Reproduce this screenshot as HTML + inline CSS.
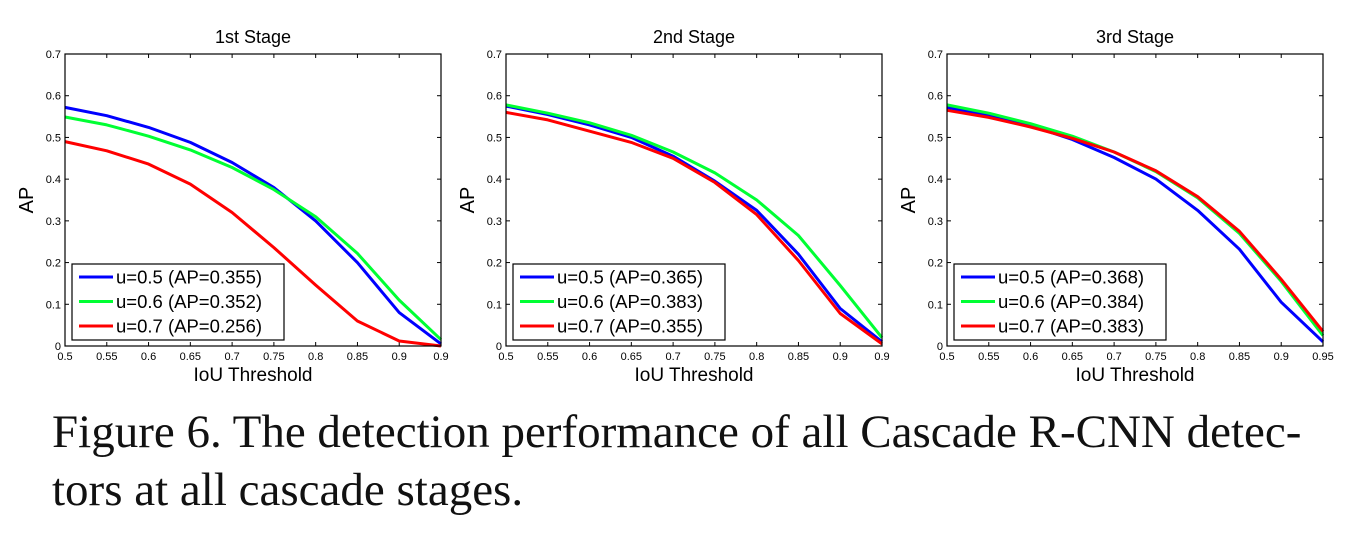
<!DOCTYPE html>
<html><head><meta charset="utf-8"><style>
html,body{margin:0;padding:0;background:#fff;width:1346px;height:557px;overflow:hidden}
svg{position:absolute;left:0;top:0}
.cap{position:absolute;left:52px;font-family:"Liberation Serif",serif;font-size:47px;line-height:47px;color:#111;white-space:nowrap}
</style></head><body>
<svg id="s" width="1346" height="557" xmlns="http://www.w3.org/2000/svg" font-family="Liberation Sans, sans-serif"></svg>
<div class="cap" style="top:409px">Figure 6. The detection performance of all Cascade R-CNN detec-</div>
<div class="cap" style="top:467px">tors at all cascade stages.</div>
<script>
const P=[
{x0:65,t:"1st Stage",last:"0.9",ap:["0.355","0.352","0.256"],d:[
[.572,.552,.524,.488,.44,.38,.3,.2,.08,.005],
[.549,.530,.503,.470,.428,.375,.31,.222,.11,.015],
[.49,.468,.436,.388,.32,.236,.146,.06,.012,0]]},
{x0:506,t:"2nd Stage",last:"0.9",ap:["0.365","0.383","0.355"],d:[
[.575,.555,.53,.5,.455,.395,.325,.22,.09,.01],
[.578,.558,.535,.505,.465,.415,.35,.265,.145,.02],
[.56,.542,.515,.488,.45,.392,.315,.205,.078,.005]]},
{x0:947,t:"3rd Stage",last:"0.95",ap:["0.368","0.384","0.383"],d:[
[.572,.552,.528,.495,.452,.4,.325,.232,.105,.01],
[.578,.558,.533,.503,.465,.418,.355,.27,.155,.025],
[.565,.548,.525,.498,.465,.42,.358,.275,.16,.035]]}];
const C=["#0000ff","#00ff33","#ff0000"];
let h="";const W=376,T=54,B=346,H=B-T;
for(const p of P){const x0=p.x0;
h+=`<text x="${x0+W/2}" y="43" font-size="18" text-anchor="middle">${p.t}</text>`;
h+=`<text transform="translate(${x0-32},200) rotate(-90)" font-size="20" text-anchor="middle">AP</text>`;
h+=`<text x="${x0+W/2}" y="381" font-size="19" text-anchor="middle">IoU Threshold</text>`;
for(let i=0;i<=7;i++){const y=B-i*H/7;
h+=`<text x="${x0-4}" y="${y+4}" font-size="11" text-anchor="end">${i?("0."+i):"0"}</text>`;
h+=`<line x1="${x0}" x2="${x0+4}" y1="${y}" y2="${y}" stroke="#000"/><line x1="${x0+W-4}" x2="${x0+W}" y1="${y}" y2="${y}" stroke="#000"/>`;}
const xl=["0.5","0.55","0.6","0.65","0.7","0.75","0.8","0.85","0.9",p.last];
for(let i=0;i<10;i++){const x=x0+i*W/9;
h+=`<text x="${x}" y="360" font-size="11" text-anchor="middle">${xl[i]}</text>`;
h+=`<line x1="${x}" x2="${x}" y1="${B}" y2="${B-4}" stroke="#000"/><line x1="${x}" x2="${x}" y1="${T}" y2="${T+4}" stroke="#000"/>`;}
for(let k=0;k<3;k++){const pts=p.d[k].map((v,i)=>`${(x0+i*W/9).toFixed(1)},${(B-v*H/0.7).toFixed(1)}`).join(" ");
h+=`<polyline points="${pts}" fill="none" stroke="${C[k]}" stroke-width="3" stroke-linejoin="round"/>`;}
h+=`<rect x="${x0}" y="${T}" width="${W}" height="${H}" fill="none" stroke="#000" stroke-width="1.2"/>`;
h+=`<rect x="${x0+7}" y="264" width="212" height="76" fill="#fff" stroke="#000" stroke-width="1.2"/>`;
for(let k=0;k<3;k++){const y=277+k*24.5;
h+=`<line x1="${x0+14}" x2="${x0+48}" y1="${y}" y2="${y}" stroke="${C[k]}" stroke-width="3"/>`;
h+=`<text x="${x0+51}" y="${y+6.5}" font-size="18.5">u=0.${5+k} (AP=${p.ap[k]})</text>`;}}
document.getElementById("s").innerHTML=h;
</script>
</body></html>
